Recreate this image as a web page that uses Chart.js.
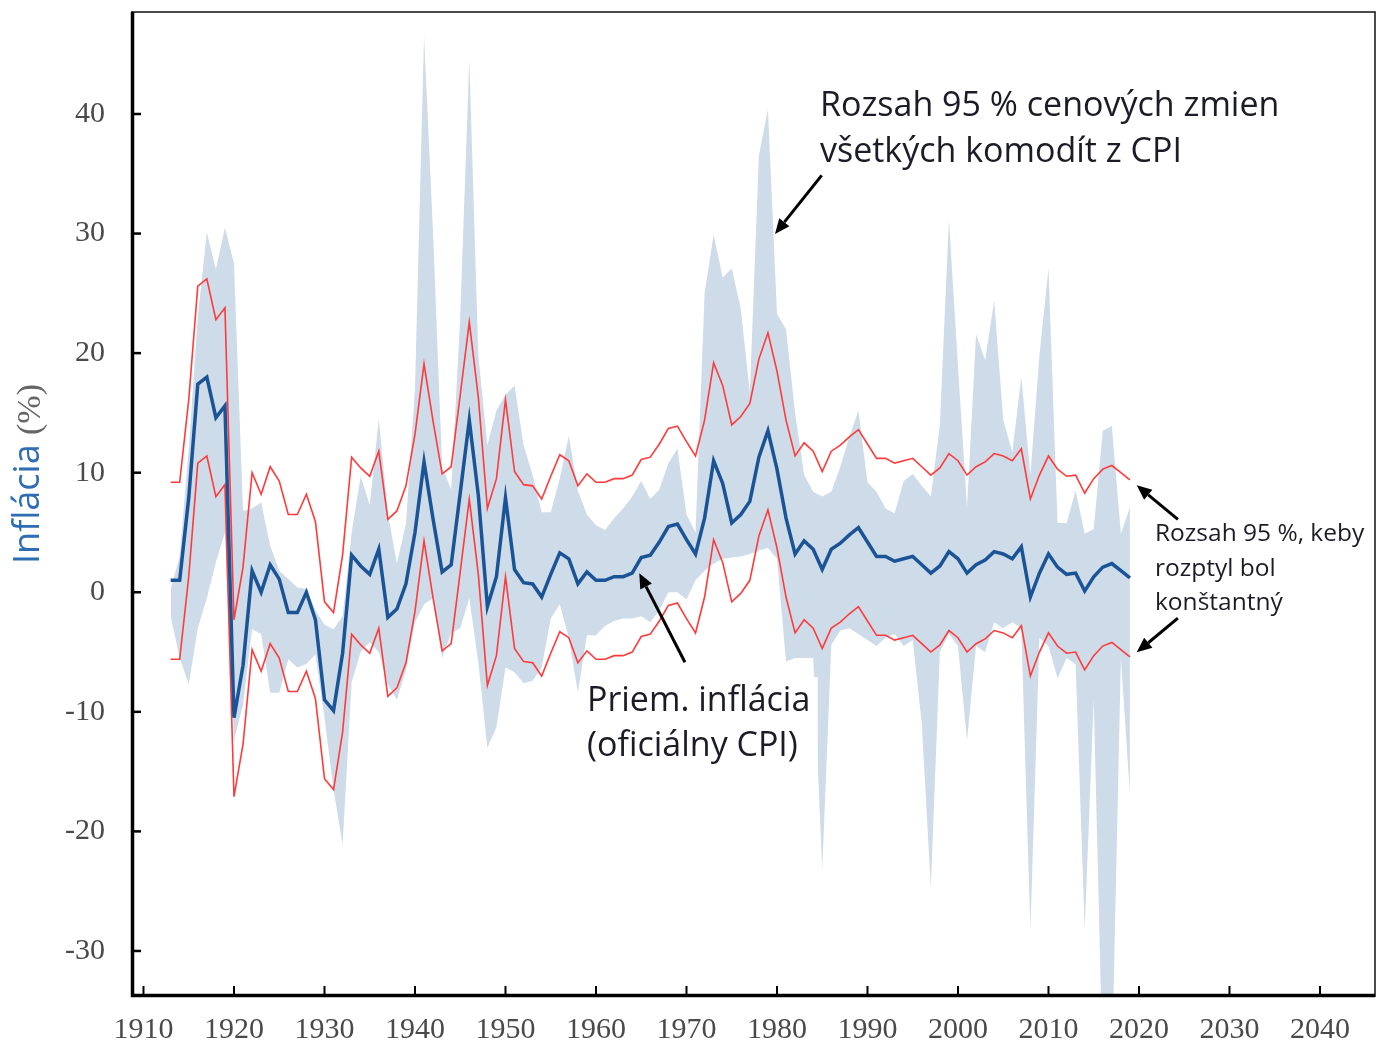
<!DOCTYPE html>
<html>
<head>
<meta charset="utf-8">
<title>Inflácia</title>
<script src="https://cdn.jsdelivr.net/npm/chart.js@4.4.1/dist/chart.umd.min.js"></script>
<style>
  html, body { margin: 0; padding: 0; background: #fff; }
  #wrap { width: 1385px; height: 1042px; }
</style>
</head>
<body>
<div id="wrap"><canvas id="inflChart" width="1385" height="1042"></canvas></div>
<script>
// roky 1913 - 2019
var firstYear = 1913, lastYear = 2019;
var years = [];
for (var yr = firstYear; yr <= lastYear; yr++) years.push(yr);

// priemerna inflacia (oficialny CPI)
var cpiMean = [
  1.0, 1.0, 7.9, 17.4, 18.0, 14.6, 15.6,
  -10.5, -6.1, 1.8, 0.0, 2.3, 1.1, -1.7, -1.7, 0.0, -2.3,
  -9.0, -9.9, -5.1, 3.1, 2.2, 1.5, 3.6, -2.1, -1.4, 0.7,
  5.0, 10.9, 6.1, 1.7, 2.3, 8.3, 14.4, 8.1, -1.2, 1.3,
  7.9, 1.9, 0.8, 0.7, -0.4, 1.5, 3.3, 2.8, 0.7, 1.7,
  1.0, 1.0, 1.3, 1.3, 1.6, 2.9, 3.1, 4.2, 5.5, 5.7,
  4.4, 3.2, 6.2, 11.0, 9.1, 5.8, 6.5, 7.6, 11.3, 13.5,
  10.3, 6.2, 3.2, 4.3, 3.6, 1.9, 3.6, 4.1, 4.8, 5.4,
  4.2, 3.0, 3.0, 2.6, 2.8, 3.0, 2.3, 1.6, 2.2, 3.4,
  2.8, 1.6, 2.3, 2.7, 3.4, 3.2, 2.8, 3.8, -0.4, 1.6,
  3.2, 2.1, 1.5, 1.6, 0.1, 1.3, 2.1, 2.4, 1.8, 1.2
];

// rozsah 95 %, keby rozptyl bol konstantny - horna hranica
var constUpper = [
  9.2, 9.2, 16.1, 25.6, 26.2, 22.8, 23.8,
  -2.3, 2.1, 10.0, 8.2, 10.5, 9.3, 6.5, 6.5, 8.2, 5.9,
  -0.8, -1.7, 3.1, 11.3, 10.4, 9.7, 11.8, 6.1, 6.8, 8.9,
  13.2, 19.1, 14.3, 9.9, 10.5, 16.5, 22.6, 16.3, 7.0, 9.5,
  16.1, 10.1, 9.0, 8.9, 7.8, 9.7, 11.5, 11.0, 8.9, 9.9,
  9.2, 9.2, 9.5, 9.5, 9.8, 11.1, 11.3, 12.4, 13.7, 13.9,
  12.6, 11.4, 14.4, 19.2, 17.3, 14.0, 14.7, 15.8, 19.5, 21.7,
  18.5, 14.4, 11.4, 12.5, 11.8, 10.1, 11.8, 12.3, 13.0, 13.6,
  12.4, 11.2, 11.2, 10.8, 11.0, 11.2, 10.5, 9.8, 10.4, 11.6,
  11.0, 9.8, 10.5, 10.9, 11.6, 11.4, 11.0, 12.0, 7.8, 9.8,
  11.4, 10.3, 9.7, 9.8, 8.3, 9.5, 10.3, 10.6, 10.0, 9.4
];

// dolna hranica
var constLower = [
  -5.6, -5.6, 1.3, 10.8, 11.4, 8.0, 9.0,
  -17.1, -12.7, -4.8, -6.6, -4.3, -5.5, -8.3, -8.3, -6.6, -8.9,
  -15.6, -16.5, -11.7, -3.5, -4.4, -5.1, -3.0, -8.7, -8.0, -5.9,
  -1.6, 4.3, -0.5, -4.9, -4.3, 1.7, 7.8, 1.5, -7.8, -5.3,
  1.3, -4.7, -5.8, -5.9, -7.0, -5.1, -3.3, -3.8, -5.9, -4.9,
  -5.6, -5.6, -5.3, -5.3, -5.0, -3.7, -3.5, -2.4, -1.1, -0.9,
  -2.2, -3.4, -0.4, 4.4, 2.5, -0.8, -0.1, 1.0, 4.7, 6.9,
  3.7, -0.4, -3.4, -2.3, -3.0, -4.7, -3.0, -2.5, -1.8, -1.2,
  -2.4, -3.6, -3.6, -4.0, -3.8, -3.6, -4.3, -5.0, -4.4, -3.2,
  -3.8, -5.0, -4.3, -3.9, -3.2, -3.4, -3.8, -2.8, -7.0, -5.0,
  -3.4, -4.5, -5.1, -5.0, -6.5, -5.3, -4.5, -4.2, -4.8, -5.4
];

// rozsah 95 % cenovych zmien vsetkych komodit - horny okraj
var bandUpper = [
  0.3, 3, 12, 23, 30.1, 27, 30.5,
  27.5, 6.8, 7, 7.5, 3.9, 1.8, 1.1, 0.4, 0.3, -1.5,
  -2.7, -3.1, -2.0, 5, 9.7, 7.3, 14.5, 6.6, 2.4, 5.7,
  17, 46.5, 30, 10.5, 8.6, 23, 44.6, 19.8, 12.3, 15.2,
  16.5, 17.3, 12.3, 9.8, 6.7, 6.7, 9.5, 13.1, 8.5, 6.5,
  5.6, 5.2, 6.2, 7, 8, 9.3, 7.8, 8.6, 10.8, 12,
  6.5, 5, 25, 29.9, 26.3, 27.1, 23.7, 16.7, 36.5, 40.4,
  23.3, 22, 15, 9.8, 8.4, 8.0, 8.4, 10.5, 13, 15.2,
  9.2, 8.4, 7, 6.6, 9.3, 9.9, 8.9, 8, 14, 31.2,
  18.9, 7.1, 21.6, 19.4, 24.4, 14.4, 11.7, 18, 9.8, 19.8,
  27.1, 5.8, 5.8, 8.5, 4.9, 5.3, 13.5, 13.9, 4.9, 7.1
];

// dolny okraj
var bandLower = [
  -2, -5.5, -7.7, -3, -0.5, 2.5, 5,
  -12.4, -9.4, -3.1, -3.5, -8.4, -8.4, -5.6, -6.3, -6, -5.2,
  -10.5, -16.5, -21.1, -7.5, -5, -4.2, -5, -7.7, -9, -6.5,
  -2.5, -1, -0.5, -5.5, -3.4, -3, -0.5, -5.9, -13, -11.3,
  -6.3, -6.7, -7.6, -7.4, -6.3, -2.2, -1, -3.8, -8.4, -3.6,
  -3.6, -2.8, -2.4, -2.2, -2.2, -2, -2.5, -1.5, 0, 0,
  -0.6, 1.0, 1.8, 2.4, 2.8, 2.9, 3.0, 3.2, 3.5, 3.7,
  2.8, -5.8, -5.5, -5.5, -5.5, -23.2, -4.4, -3.2, -3, -3.5,
  -4, -4.5, -3.8, -3.5, -4.5, -4, -11, -24.7, -5, -3.5,
  -4.5, -12.4, -4.5, -5, -2.5, -3, -2.5, -3, -28.3, -3.8,
  -4.5, -7.2, -5.5, -6, -28.2, -9, -40, -40, -5.5, -16.9
];

var xTickValues = [1910, 1920, 1930, 1940, 1950, 1960, 1970, 1980, 1990, 2000, 2010, 2020, 2030, 2040];
var yTickValues = [-30, -20, -10, 0, 10, 20, 30, 40];

function toPoints(values) {
    return values.map(function(v, i) { return { x: years[i], y: v }; });
}

// popisky a sipky (v jednotkach grafu: rok, %)
var notes = [
    { lines: ["Rozsah 95 % cenových zmien", "všetkých komodít z CPI"], x: 1984.75, y: [39.8, 35.95], size: 34 },
    { lines: ["Priem. inflácia", "(oficiálny CPI)"], x: 1959.0, y: [-9.95, -13.7], size: 34, box: [1958.6, -7.1, 1984.5, -16.1] },
    { lines: ["Rozsah 95 %, keby", "rozptyl bol", "konštantný"], x: 2021.77, y: [4.3, 1.4, -1.5], size: 24.5 }
];
var arrows = [
    { from: [1984.94, 34.87], to: [1979.78, 29.97] },
    { from: [1969.83, -5.85], to: [1964.78, 1.59] },
    { from: [2024.3, 6.1], to: [2019.75, 8.95] },
    { from: [2024.3, -2.17], to: [2019.75, -5.02] }
];

var overlayPlugin = {
    id: 'overlay',
    afterDatasetsDraw: function(chart) {
        var ctx = chart.ctx;
        var xs = chart.scales.x, ys = chart.scales.y;
        var area = chart.chartArea;
        ctx.save();

        // text s bielym pozadim
        notes.forEach(function(n) {
            if (n.box) {
                ctx.fillStyle = '#ffffff';
                var bx = xs.getPixelForValue(n.box[0]), by = ys.getPixelForValue(n.box[1]);
                var bx2 = xs.getPixelForValue(n.box[2]), by2 = ys.getPixelForValue(n.box[3]);
                ctx.fillRect(bx, by, bx2 - bx, by2 - by);
            }
            ctx.fillStyle = '#1c1c28';
            ctx.font = n.size + 'px "Open Sans", "Noto Sans", sans-serif';
            ctx.textAlign = 'left';
            ctx.textBaseline = 'alphabetic';
            n.lines.forEach(function(t, i) {
                ctx.fillText(t, xs.getPixelForValue(n.x), ys.getPixelForValue(n.y[i]));
            });
        });

        // sipky
        ctx.strokeStyle = '#000';
        ctx.fillStyle = '#000';
        ctx.lineWidth = 3;
        arrows.forEach(function(a) {
            var x1 = xs.getPixelForValue(a.from[0]), y1 = ys.getPixelForValue(a.from[1]);
            var x2 = xs.getPixelForValue(a.to[0]), y2 = ys.getPixelForValue(a.to[1]);
            var ang = Math.atan2(y2 - y1, x2 - x1);
            var hl = 15, hw = 6.5;
            var bxp = x2 - hl * Math.cos(ang), byp = y2 - hl * Math.sin(ang);
            ctx.beginPath();
            ctx.moveTo(x1, y1);
            ctx.lineTo(bxp, byp);
            ctx.stroke();
            ctx.beginPath();
            ctx.moveTo(x2, y2);
            ctx.lineTo(bxp + hw * Math.sin(ang), byp - hw * Math.cos(ang));
            ctx.lineTo(bxp - hw * Math.sin(ang), byp + hw * Math.cos(ang));
            ctx.closePath();
            ctx.fill();
        });

        // ramik grafu
        ctx.strokeStyle = '#111';
        ctx.lineWidth = 1.5;
        ctx.beginPath();
        ctx.moveTo(area.left, area.top);
        ctx.lineTo(area.right, area.top);
        ctx.lineTo(area.right, area.bottom);
        ctx.stroke();
        ctx.lineWidth = 3.5;
        ctx.strokeStyle = '#000';
        ctx.beginPath();
        ctx.moveTo(area.left + 1.5, area.top);
        ctx.lineTo(area.left + 1.5, area.bottom - 1.5);
        ctx.lineTo(area.right, area.bottom - 1.5);
        ctx.stroke();

        // znacky osi smerom dnu
        ctx.lineWidth = 2.5;
        yTickValues.forEach(function(v) {
            var p = ys.getPixelForValue(v);
            ctx.beginPath();
            ctx.moveTo(area.left, p);
            ctx.lineTo(area.left + 10, p);
            ctx.stroke();
        });
        ctx.lineWidth = 2;
        xTickValues.forEach(function(v) {
            var p = xs.getPixelForValue(v);
            ctx.beginPath();
            ctx.moveTo(p, area.bottom);
            ctx.lineTo(p, area.bottom - 11);
            ctx.stroke();
        });

        // nazov osi y
        ctx.translate(29, 474);
        ctx.rotate(-Math.PI / 2);
        ctx.textBaseline = 'middle';
        ctx.textAlign = 'left';
        var f1 = '36px "Open Sans", "Noto Sans", sans-serif';
        var f2 = '34px "Liberation Serif", serif';
        ctx.font = f1;
        var t1 = 'Inflácia ';
        var w1 = ctx.measureText(t1).width;
        ctx.font = f2;
        var t2 = '(%)';
        var w2 = ctx.measureText(t2).width;
        var start = -(w1 + w2) / 2;
        ctx.font = f1;
        ctx.fillStyle = '#2e6db4';
        ctx.fillText(t1, start, 0);
        ctx.font = f2;
        ctx.fillStyle = '#666';
        ctx.fillText(t2, start + w1, 2);
        ctx.restore();
    }
};

window.addEventListener("DOMContentLoaded", function() {
    var ctxEl = document.getElementById("inflChart");
    var data = {
        datasets: [{
            label: 'Priem. inflácia',
            data: toPoints(cpiMean),
            borderColor: '#1b5496',
            borderWidth: 3.5,
            pointRadius: 0,
            fill: false
        }, {
            label: 'Konštantný rozptyl (horná)',
            data: toPoints(constUpper),
            borderColor: '#ff3a3a',
            borderWidth: 1.6,
            pointRadius: 0,
            fill: false
        }, {
            label: 'Konštantný rozptyl (dolná)',
            data: toPoints(constLower),
            borderColor: '#ff3a3a',
            borderWidth: 1.6,
            pointRadius: 0,
            fill: false
        }, {
            label: 'Rozsah 95 % (horný)',
            data: toPoints(bandUpper),
            borderColor: 'rgba(0,0,0,0)',
            borderWidth: 0,
            backgroundColor: '#cedbe8',
            pointRadius: 0,
            fill: '+1'
        }, {
            label: 'Rozsah 95 % (dolný)',
            data: toPoints(bandLower),
            borderColor: 'rgba(0,0,0,0)',
            borderWidth: 0,
            pointRadius: 0,
            fill: false
        }]
    };

    new Chart(ctxEl, {
        type: 'line',
        data: data,
        plugins: [overlayPlugin],
        options: {
            responsive: false,
            animation: false,
            devicePixelRatio: 1,
            events: [],
            layout: { padding: { left: 0, right: 10, top: 12, bottom: 0 } },
            plugins: {
                legend: { display: false },
                tooltip: { enabled: false }
            },
            scales: {
                x: {
                    type: 'linear',
                    min: 1908.62,
                    max: 2046.08,
                    afterBuildTicks: function(s) { s.ticks = xTickValues.map(function(v) { return { value: v }; }); },
                    afterFit: function(s) { s.height = 45; s.paddingLeft = 0; s.paddingRight = 0; },
                    grid: { display: false },
                    border: { display: false },
                    ticks: {
                        autoSkip: false,
                        maxRotation: 0,
                        padding: 7,
                        color: '#4a4a4a',
                        font: { family: '"Liberation Serif", serif', size: 30 },
                        callback: function(v) { return String(v); }
                    }
                },
                y: {
                    min: -33.85,
                    max: 48.53,
                    afterBuildTicks: function(s) { s.ticks = yTickValues.map(function(v) { return { value: v }; }); },
                    afterFit: function(s) { s.width = 131; s.paddingTop = 0; s.paddingBottom = 0; },
                    grid: { display: false },
                    border: { display: false },
                    ticks: {
                        padding: 18,
                        color: '#4a4a4a',
                        font: { family: '"Liberation Serif", serif', size: 30 },
                        callback: function(v) { return String(v); }
                    }
                }
            }
        }
    });
});
</script>
</body>
</html>
